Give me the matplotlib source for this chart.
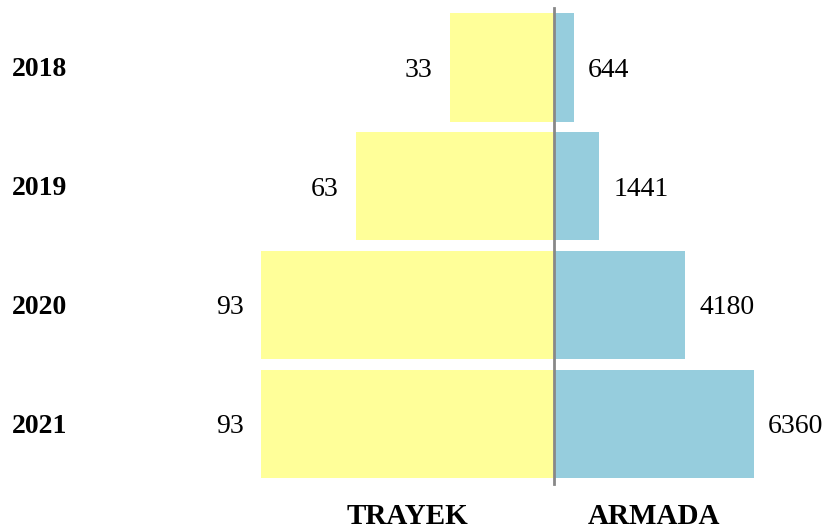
import matplotlib

matplotlib.use("Agg")
import matplotlib.pyplot as plt

years = ["2018", "2019", "2020", "2021"]
trayek = [33, 63, 93, 93]
armada = [644, 1441, 4180, 6360]

plt.rcParams["font.family"] = ["Liberation Serif", "DejaVu Serif"]

W, H = 827, 531
fig = plt.figure(figsize=(W / 100, H / 100), dpi=100)

center = 554
left_edge = 261
right_edge = 754
top, bottom = 8, 483.5

ax_l = fig.add_axes([left_edge / W, 1 - bottom / H, (center - left_edge) / W, (bottom - top) / H])
ax_r = fig.add_axes([center / W, 1 - bottom / H, (right_edge - center) / W, (bottom - top) / H])

ypos = list(range(len(years)))
ax_l.barh(ypos, trayek, height=0.91, color="#FFFF99")
ax_r.barh(ypos, armada, height=0.91, color="#96CDDD")

ax_l.set_xlim(max(trayek), 0)
ax_r.set_xlim(0, max(armada))
for ax in (ax_l, ax_r):
    ax.set_ylim(len(years) - 0.5, -0.5)
    ax.axis("off")

ax_r.axvline(0, color="#888888", lw=2, clip_on=False, zorder=5)

# value labels
for y, v in zip(ypos, trayek):
    ax_l.annotate(str(v), (v, y), xytext=(-12.5, -2), textcoords="offset points",
                  ha="right", va="center", fontsize=20)
for y, v in zip(ypos, armada):
    ax_r.annotate(str(v), (v, y), xytext=(10, -2), textcoords="offset points",
                  ha="left", va="center", fontsize=20)

# year labels
for y, yr in zip(ypos, years):
    ax_l.annotate(yr, (0, y), xycoords=("figure fraction", "data"), xytext=(8.5, -1.5),
                  textcoords="offset points", ha="left", va="center",
                  fontsize=20, fontweight="bold")

# side titles
fig.text((left_edge + center) / 2 / W, 1 - 517 / H, "TRAYEK", ha="center", va="center",
         fontsize=21, fontweight="bold")
fig.text((center + right_edge) / 2 / W, 1 - 517 / H, "ARMADA", ha="center", va="center",
         fontsize=21, fontweight="bold")

plt.savefig("out.png", dpi=100)
plt.close()
